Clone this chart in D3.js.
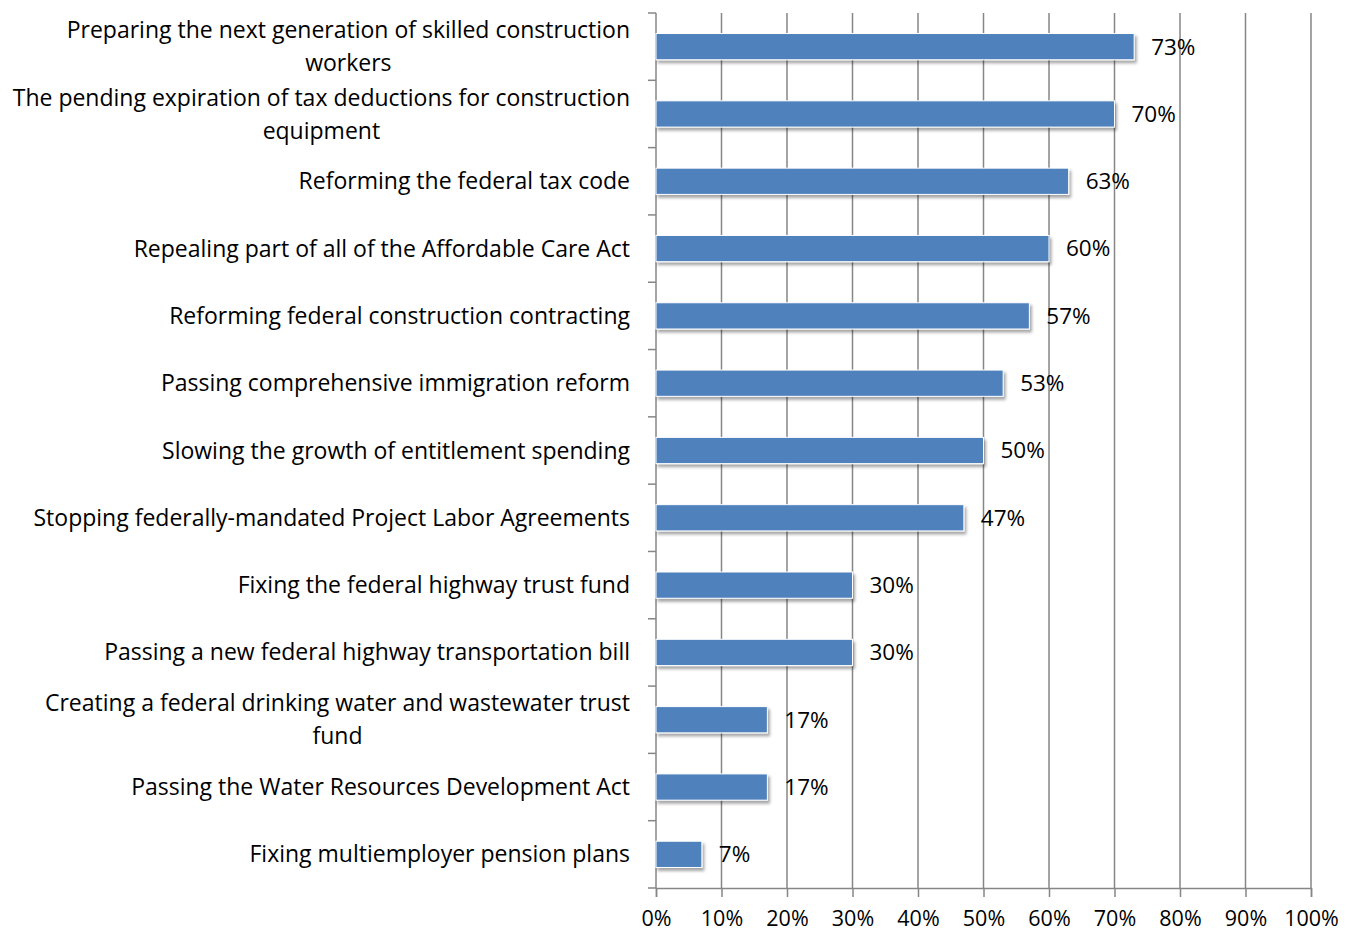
<!DOCTYPE html>
<html>
<head>
<meta charset="utf-8">
<script src="https://cdn.jsdelivr.net/npm/d3@7"></script>
<style>
  body { margin: 0; background: #fff; overflow: hidden; }
  text { font-family: "Open Sans", sans-serif; fill: #000; }
</style>
</head>
<body>
<div id="chart"></div>
<script>
var categories = [
  'Preparing the next generation of skilled construction workers',
  'The pending expiration of tax deductions for construction equipment',
  'Reforming the federal tax code',
  'Repealing part of all of the Affordable Care Act',
  'Reforming federal construction contracting',
  'Passing comprehensive immigration reform',
  'Slowing the growth of entitlement spending',
  'Stopping federally-mandated Project Labor Agreements',
  'Fixing the federal highway trust fund',
  'Passing a new federal highway transportation bill',
  'Creating a federal drinking water and wastewater trust fund',
  'Passing the Water Resources Development Act',
  'Fixing multiemployer pension plans'
];
var values = [73, 70, 63, 60, 57, 53, 50, 47, 30, 30, 17, 17, 7];
var xTicks = [0, 10, 20, 30, 40, 50, 60, 70, 80, 90, 100];

var svgWidth = 1351;
var svgHeight = 933;
var margin = { left: 656, right: 40, top: 13, bottom: 45 };
var width = svgWidth - margin.left - margin.right;
var height = svgHeight - margin.top - margin.bottom;

var svg = d3.select('#chart').append('svg')
  .attr('width', svgWidth)
  .attr('height', svgHeight);

var defs = svg.append('defs');
var filter = defs.append('filter')
  .attr('id', 'shadow')
  .attr('x', '-10%').attr('y', '-30%')
  .attr('width', '130%').attr('height', '180%');
filter.append('feDropShadow')
  .attr('dx', 2).attr('dy', 3)
  .attr('stdDeviation', 1.5)
  .attr('flood-color', '#000')
  .attr('flood-opacity', 0.35);

var g = svg.append('g')
  .attr('transform', 'translate(' + margin.left + ', ' + margin.top + ')');

var xScale = d3.scaleLinear()
  .range([0, width])
  .domain([0, 100]);
var yScale = d3.scaleBand()
  .range([0, height])
  .domain(categories)
  .paddingInner(0.61)
  .paddingOuter(0.305);

// vertical gridlines
g.append('g')
  .selectAll('line')
  .data(xTicks.slice(1))
  .enter().append('line')
  .attr('x1', function (d) { return xScale(d); })
  .attr('x2', function (d) { return xScale(d); })
  .attr('y1', 0)
  .attr('y2', height)
  .attr('stroke', '#868686')
  .attr('stroke-width', 1.5);

// x axis
var xAxis = d3.axisBottom()
  .scale(xScale)
  .tickValues(xTicks)
  .tickSize(9)
  .tickPadding(14)
  .tickFormat(function (d) { return d + '%'; });

var xg = g.append('g')
  .attr('transform', 'translate(0, ' + height + ')')
  .call(xAxis);
xg.select('.domain').attr('stroke', '#868686').attr('stroke-width', 1.5);
xg.selectAll('.tick line').attr('stroke', '#868686').attr('stroke-width', 1.5);
xg.selectAll('.tick text')
  .attr('font-size', 21.5)
  .attr('font-family', '"Open Sans", sans-serif')
  .attr('fill', '#000');

// y axis: ticks at band boundaries
var step = height / categories.length;
var yg = g.append('g');
yg.append('line')
  .attr('x1', 0).attr('x2', 0)
  .attr('y1', 0).attr('y2', height)
  .attr('stroke', '#868686')
  .attr('stroke-width', 1.5);
yg.selectAll('.ytick')
  .data(d3.range(categories.length + 1))
  .enter().append('line')
  .attr('class', 'ytick')
  .attr('x1', -8).attr('x2', 0)
  .attr('y1', function (d) { return d * step; })
  .attr('y2', function (d) { return d * step; })
  .attr('stroke', '#868686')
  .attr('stroke-width', 1.5);

// bars
g.append('g')
  .selectAll('rect')
  .data(values)
  .enter().append('rect')
  .attr('x', 0)
  .attr('y', function (d, i) { return yScale(categories[i]); })
  .attr('width', function (d) { return xScale(d); })
  .attr('height', yScale.bandwidth())
  .attr('fill', '#4F81BD')
  .attr('stroke', '#fff')
  .attr('stroke-width', 1)
  .attr('filter', 'url(#shadow)');

// value labels
g.append('g')
  .selectAll('text')
  .data(values)
  .enter().append('text')
  .attr('x', function (d) { return xScale(d) + 17; })
  .attr('y', function (d, i) { return yScale(categories[i]) + yScale.bandwidth() / 2; })
  .attr('dy', '0.35em')
  .attr('font-size', 22.5)
  .text(function (d) { return d + '%'; });

// category labels with wrapping
var labelG = g.append('g');
var maxWidth = 632;
categories.forEach(function (cat, i) {
  var t = labelG.append('text')
    .attr('text-anchor', 'middle')
    .attr('font-size', 23);
  var words = cat.split(' ');
  var lines = [];
  var line = [];
  words.forEach(function (w) {
    line.push(w);
    t.text(line.join(' '));
    if (t.node().getComputedTextLength() > maxWidth && line.length > 1) {
      line.pop();
      lines.push(line.join(' '));
      line = [w];
    }
  });
  lines.push(line.join(' '));
  t.text(null);
  var lh = 33;
  var cy = yScale(cat) + yScale.bandwidth() / 2;
  var y0 = cy - (lines.length - 1) * lh / 2;
  // right-align block, center lines inside block
  var widths = lines.map(function (l) {
    t.text(l);
    return t.node().getComputedTextLength();
  });
  t.text(null);
  var blockW = d3.max(widths);
  var cx = -26 - blockW / 2;
  lines.forEach(function (l, k) {
    t.append('tspan')
      .attr('x', cx)
      .attr('y', y0 + k * lh)
      .attr('dy', '0.35em')
      .text(l);
  });
});
</script>
</body>
</html>
